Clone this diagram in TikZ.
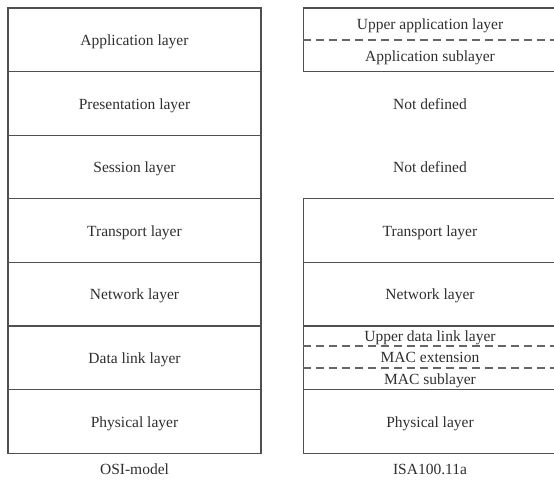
\documentclass[tikz,border=0pt]{standalone}
\usepackage{fontspec}
\setmainfont{Liberation Serif}
\definecolor{edge}{HTML}{505050}
\definecolor{dash}{HTML}{666666}
\definecolor{ink}{HTML}{2E2E2E}
\begin{document}
\begin{tikzpicture}[x=1pt,y=-1pt,
  txt/.style={text=ink, font=\fontsize{15.5}{17}\selectfont, text height=12pt, text depth=0.5pt},
  layer/.style={txt, draw=edge, line width=1.1pt, minimum width=253pt, minimum height=63.6pt,
    inner sep=0pt},
  blank/.style={txt, minimum width=253pt, inner sep=0pt},
  sublayer/.style={txt, inner sep=0pt},
  split/.style={draw=dash, line width=1.5pt, dash pattern=on 8pt off 5pt},
  caption/.style={txt}]
\useasboundingbox (0,0) rectangle (554,480);

% OSI reference model
\node[layer] (osiapp)  at (134.5, 39.8)  {Application layer};
\node[layer] (osipres) at (134.5, 103.4) {Presentation layer};
\node[layer] (osises)  at (134.5, 167.0) {Session layer};
\node[layer] (ositra)  at (134.5, 230.6) {Transport layer};
\node[layer] (osinet)  at (134.5, 294.2) {Network layer};
\node[layer] (osidl)   at (134.5, 357.8) {Data link layer};
\node[layer] (osiphy)  at (134.5, 421.4) {Physical layer};
\node[caption] (osicap) at (134.5, 469) {OSI-model};

% ISA100.11a stack
\node[layer] (isaapp) at (430, 39.8) {};
\node[sublayer, minimum height=32pt] (upperapp) at (430, 23.9) {Upper application layer};
\node[sublayer, minimum height=32pt] (appsub)   at (430, 55.7) {Application sublayer};
\draw[split] (isaapp.west |- upperapp.south) -- (isaapp.east |- upperapp.south);

\node[blank] (nd1) at (430, 103.4) {Not defined};
\node[blank] (nd2) at (430, 167.0) {Not defined};

\node[layer] (isatra) at (430, 230.6) {Transport layer};
\node[layer] (isanet) at (430, 294.2) {Network layer};
\node[layer] (isadl)  at (430, 357.8) {};
\node[sublayer, minimum height=20pt] (upperdl) at (430, 336) {Upper data link layer};
\node[sublayer, minimum height=22pt] (macext)  at (430, 357) {MAC extension};
\node[sublayer, minimum height=22pt] (macsub)  at (430, 379) {MAC sublayer};
\draw[split] (isadl.west |- upperdl.south) -- (isadl.east |- upperdl.south);
\draw[split] (isadl.west |- macext.south) -- (isadl.east |- macext.south);
\node[layer] (isaphy) at (430, 421.4) {Physical layer};
\node[caption] (isacap) at (430, 469) {ISA100.11a};
\end{tikzpicture}
\end{document}
